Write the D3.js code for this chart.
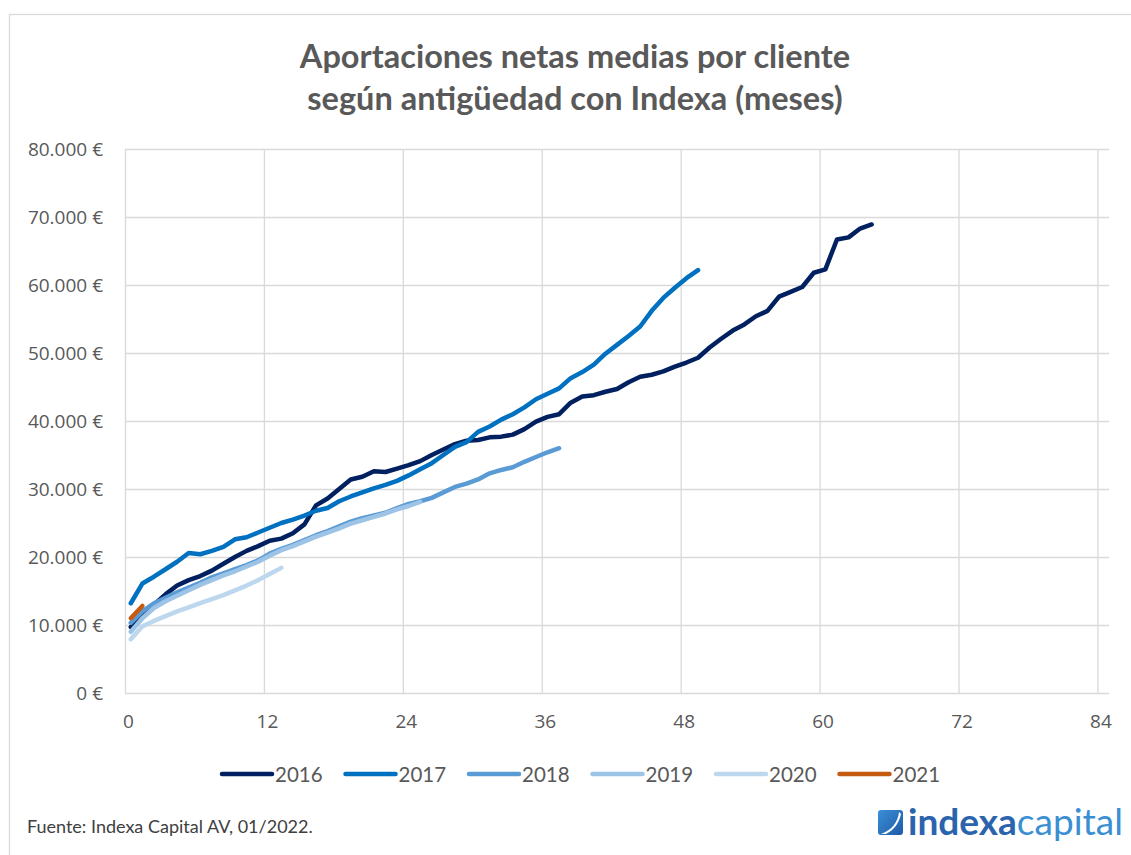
<!DOCTYPE html>
<html>
<head>
<meta charset="utf-8">
<script src="https://cdn.jsdelivr.net/npm/d3@7"></script>
<style>
  body { margin: 0; background: #fff; }
  svg { display: block; }
</style>
</head>
<body>
<div id="chart"></div>
<script>
// values in thousands of euros, one point per month of antiquity
let years = ['2016', '2017', '2018', '2019', '2020', '2021']
let colors = ['#002060', '#0070C0', '#5B9BD5', '#9DC3E6', '#BDD7EE', '#C55A11']

let v2016 = [9.7, 11.5, 13.0, 14.5, 15.8, 16.6, 17.2, 18.0, 19.0, 20.0, 20.9, 21.6, 22.4, 22.7, 23.5, 24.8,
  27.6, 28.6, 30.0, 31.4, 31.8, 32.6, 32.5, 33.0, 33.5, 34.1, 35.0, 35.8, 36.6, 37.1, 37.2, 37.6, 37.7, 38.0,
  38.8, 39.9, 40.6, 41.0, 42.7, 43.6, 43.8, 44.3, 44.7, 45.7, 46.5, 46.8, 47.3, 48.0, 48.6, 49.3, 50.8, 52.1,
  53.3, 54.2, 55.4, 56.2, 58.3, 59.0, 59.7, 61.8, 62.3, 66.7, 67.0, 68.3, 68.9]
let v2017 = [13.2, 16.1, 17.1, 18.2, 19.3, 20.6, 20.4, 20.9, 21.5, 22.6, 22.9, 23.6, 24.3, 25.0, 25.5, 26.1,
  26.8, 27.2, 28.2, 28.9, 29.5, 30.1, 30.6, 31.2, 32.0, 32.9, 33.8, 35.0, 36.2, 36.9, 38.4, 39.2, 40.2, 41.0,
  42.0, 43.2, 44.0, 44.8, 46.3, 47.2, 48.3, 49.9, 51.2, 52.5, 53.9, 56.2, 58.1, 59.6, 61.0, 62.2]
let v2018 = [10.3, 12.0, 13.2, 14.0, 14.8, 15.5, 16.2, 17.0, 17.6, 18.2, 18.8, 19.5, 20.5, 21.2, 21.8, 22.5,
  23.2, 23.8, 24.5, 25.2, 25.7, 26.1, 26.5, 27.2, 27.8, 28.2, 28.7, 29.5, 30.3, 30.8, 31.4, 32.3, 32.8, 33.2,
  34.0, 34.7, 35.4, 36.0]
let v2019 = [9.0, 11.0, 12.5, 13.5, 14.3, 15.1, 15.9, 16.6, 17.3, 17.9, 18.6, 19.3, 20.2, 21.0, 21.6, 22.3,
  23.0, 23.6, 24.2, 24.9, 25.4, 25.9, 26.4, 27.0, 27.5, 28.1]
let v2020 = [7.9, 9.8, 10.6, 11.3, 12.0, 12.6, 13.2, 13.8, 14.4, 15.1, 15.8, 16.6, 17.5, 18.4]
let v2021 = [11.0, 12.8]

let seriesValues = [v2016, v2017, v2018, v2019, v2020, v2021]
let xTicks = [0, 12, 24, 36, 48, 60, 72, 84]
let yTicks = [0, 10000, 20000, 30000, 40000, 50000, 60000, 70000, 80000]

let width = 1131
let height = 855
let gray = '#595959'
let gridColor = '#d9d9d9'

let svg = d3.select('#chart').append('svg')
  .attr('width', width)
  .attr('height', height)

// outer frame
svg.append('rect')
  .attr('x', 9.5).attr('y', 14.5)
  .attr('width', 1140).attr('height', 860)
  .attr('fill', 'none')
  .attr('stroke', gridColor)
  .attr('stroke-width', 1.3)

// title
let titleLines = ['Aportaciones netas medias por cliente', 'según antigüedad con Indexa (meses)']
svg.append('g').selectAll('text')
  .data(titleLines)
  .enter()
  .append('text')
  .attr('x', 575)
  .attr('y', (d, i) => 68 + i * 42)
  .attr('text-anchor', 'middle')
  .style('font-family', 'Lato, sans-serif')
  .style('font-weight', 'bold')
  .style('font-size', '32.5px')
  .style('fill', gray)
  .text(d => d)

// scales
let xScale = d3.scaleLinear().domain([0, 85]).range([125, 1109])
let yScale = d3.scaleLinear().domain([0, 80000]).range([693, 149])

let euro = v => d3.format(',')(v).replace(/,/g, '.') + ' €'

// y axis with horizontal gridlines
svg.append('g')
  .attr('transform', 'translate(125, 0)')
  .call(d3.axisLeft(yScale).tickValues(yTicks).tickFormat(euro)
    .tickSize(-(xScale(85) - xScale(0))).tickPadding(22))
  .call(g => g.select('.domain').remove())
  .call(g => g.selectAll('.tick line').attr('stroke', gridColor).attr('stroke-width', 1.3))
  .call(g => g.selectAll('.tick text')
    .style('font-family', '"Open Sans", sans-serif')
    .style('font-size', '19px')
    .style('fill', gray))

// x axis with vertical gridlines
svg.append('g')
  .attr('transform', 'translate(0, 693)')
  .call(d3.axisBottom(xScale).tickValues(xTicks)
    .tickSize(-(yScale(0) - yScale(80000))).tickPadding(22))
  .call(g => g.select('.domain').remove())
  .call(g => g.selectAll('.tick line').attr('stroke', gridColor).attr('stroke-width', 1.3))
  .call(g => g.selectAll('.tick text')
    .attr('dx', 3)
    .style('font-family', '"Open Sans", sans-serif')
    .style('font-size', '19px')
    .style('fill', gray))

// lines
let line = d3.line()
  .x((d, i) => xScale(i + 0.5))
  .y(d => yScale(d * 1000))

svg.append('g').selectAll('path')
  .data(seriesValues)
  .enter()
  .append('path')
  .attr('d', d => line(d))
  .attr('fill', 'none')
  .attr('stroke', (d, i) => colors[i])
  .attr('stroke-width', 4.5)
  .attr('stroke-linejoin', 'round')
  .attr('stroke-linecap', 'round')

// legend
let legend = svg.append('g').selectAll('g')
  .data(years)
  .enter()
  .append('g')
  .attr('transform', (d, i) => 'translate(' + (222 + i * 123.5) + ', 774)')

legend.append('line')
  .attr('x1', 0).attr('x2', 50)
  .attr('stroke', (d, i) => colors[i])
  .attr('stroke-width', 4.5)
  .attr('stroke-linecap', 'round')

legend.append('text')
  .attr('x', 53).attr('y', 7.5)
  .style('font-family', 'Lato, sans-serif')
  .style('font-size', '20.5px')
  .style('fill', gray)
  .text(d => d)

// source
svg.append('text')
  .attr('x', 27).attr('y', 833)
  .style('font-family', 'Lato, sans-serif')
  .style('font-size', '18px')
  .style('fill', '#404040')
  .text('Fuente: Indexa Capital AV, 01/2022.')

// logo
let logo = svg.append('g').attr('transform', 'translate(878, 810)')
let grad = svg.append('defs').append('linearGradient')
  .attr('id', 'logoGrad').attr('x1', 0).attr('y1', 0).attr('x2', 1).attr('y2', 1)
grad.append('stop').attr('offset', '0%').attr('stop-color', '#3b8fd6')
grad.append('stop').attr('offset', '100%').attr('stop-color', '#1f5aa8')
logo.append('rect')
  .attr('width', 25).attr('height', 25).attr('rx', 3)
  .attr('fill', 'url(#logoGrad)')
logo.append('path')
  .attr('d', 'M21,2 C20,12 14,20 3,24 L8,24 C16,20 21,13 23,4 Z')
  .attr('fill', '#fff')
let logoText = logo.append('text')
  .attr('x', 30).attr('y', 25)
  .style('font-family', 'Lato, sans-serif')
  .style('font-size', '37px')
logoText.append('tspan').style('font-weight', 'bold').style('fill', '#2b64ad').text('indexa')
logoText.append('tspan').style('fill', '#3a8fd3').text('capital')
</script>
</body>
</html>
